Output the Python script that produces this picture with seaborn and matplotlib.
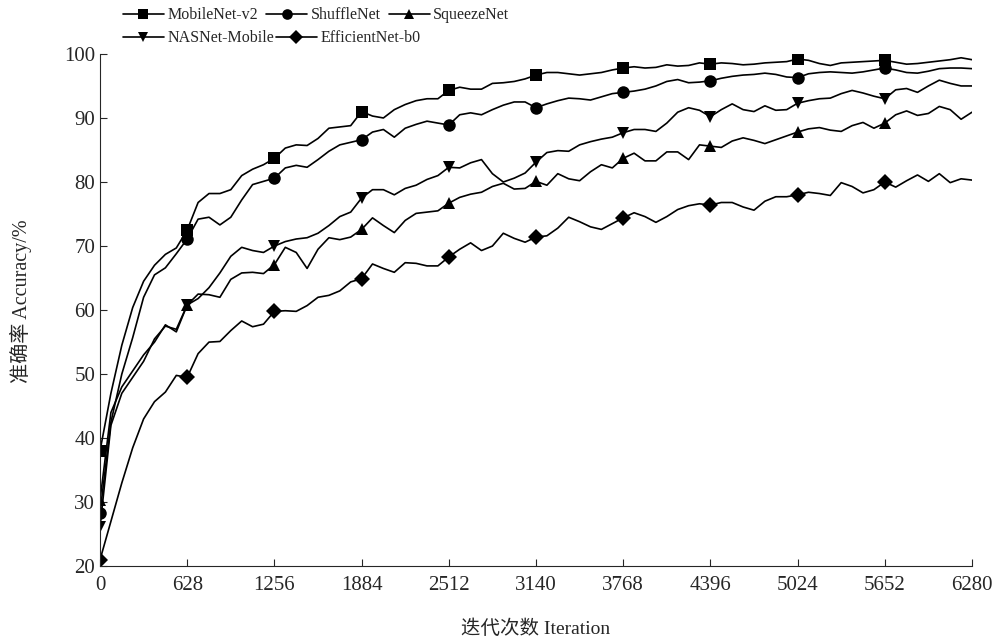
import numpy as np
import matplotlib
matplotlib.use("Agg")
import matplotlib.pyplot as plt
import seaborn as sns

# iteration grid (78.5 iterations per sample, marker every 628)
iterations = np.arange(81) * 78.5
x_ticks = [0, 628, 1256, 1884, 2512, 3140, 3768, 4396, 5024, 5652, 6280]
y_ticks = [20, 30, 40, 50, 60, 70, 80, 90, 100]

mobilenet_v2 = [38, 47, 54.5, 60.4, 64.5, 67, 68.7, 69.7, 72.5, 76.8,
                78.2, 78.2, 78.8, 81, 82, 82.7, 83.7, 85.3, 85.8, 85.7,
                86.8, 88.4, 88.6, 88.8, 91, 90.3, 90, 91.3, 92.1, 92.7,
                93, 93, 94.3, 94.8, 94.5, 94.5, 95.4, 95.5, 95.7, 96.1,
                96.7, 97.1, 97.1, 96.9, 96.7, 96.9, 97.1, 97.5, 97.8, 98,
                97.8, 97.9, 98.3, 98.1, 98.2, 98.6, 98.4, 98.6, 98.5, 98.3,
                98.4, 98.6, 98.7, 98.8, 99.2, 99, 98.5, 98.2, 98.6, 98.7,
                98.8, 98.9, 99, 98.7, 98.4, 98.5, 98.7, 98.9, 99.1, 99.4, 99.1]

shufflenet = [28.3, 42.5, 50, 55.7, 62, 65.5, 66.6, 68.8, 71.1, 74.2,
              74.5, 73.3, 74.5, 77.2, 79.6, 80.1, 80.6, 82.2, 82.6, 82.3,
              83.5, 84.8, 85.8, 86.2, 86.6, 87.8, 88.2, 87, 88.4, 89,
              89.5, 89.2, 88.9, 90.5, 90.8, 90.5, 91.3, 92, 92.5, 92.5,
              91.6, 92.2, 92.7, 93.1, 93, 92.8, 93.3, 93.8, 94, 94.2,
              94.5, 95, 95.7, 96, 95.5, 95.6, 95.8, 96.2, 96.5, 96.7,
              96.8, 97, 96.8, 96.4, 96.3, 96.9, 97.1, 97.2, 97.1, 97,
              97.2, 97.5, 97.8, 97.5, 97.1, 97, 97.3, 97.7, 97.8, 97.8, 97.7]

squeezenet = [30.3, 44, 48, 50.5, 53, 55, 57.7, 56.6, 60.8, 62.5,
              62.4, 62, 64.8, 65.8, 65.9, 65.7, 67.1, 69.8, 69, 66.5,
              69.5, 71.3, 71, 71.4, 72.6, 74.4, 73.2, 72.1, 74, 75.1,
              75.3, 75.5, 76.7, 77.6, 78.1, 78.4, 79.3, 79.8, 78.9, 79,
              80.1, 79.5, 81.3, 80.5, 80.2, 81.6, 82.7, 82.2, 83.7, 84.5,
              83.3, 83.3, 84.7, 84.7, 83.5, 85.8, 85.6, 85.4, 86.4, 86.9,
              86.5, 86, 86.6, 87.2, 87.8, 88.3, 88.5, 88.1, 87.9, 88.8,
              89.3, 88.4, 89.2, 90.5, 91.1, 90.4, 90.7, 91.8, 91.3, 89.8, 90.9]

nasnet_mobile = [26.1, 42, 47, 49.5, 52, 55.5, 57.5, 57, 60.8, 61.8,
                 63.5, 65.8, 68.4, 69.8, 69.3, 69, 70, 70.7, 71.1, 71.3,
                 72, 73.2, 74.6, 75.3, 77.5, 78.8, 78.8, 78, 79, 79.5,
                 80.4, 81, 82.3, 82.2, 83, 83.5, 81.3, 80, 80.6, 81.4,
                 83.1, 84.6, 84.9, 84.8, 85.8, 86.3, 86.7, 87, 87.7, 88.2,
                 88.2, 87.9, 89.2, 90.9, 91.6, 91.2, 90.2, 91.3, 92.2, 91.3,
                 91, 91.9, 91.2, 91.3, 92.3, 92.7, 93, 93.1, 93.8, 94.3,
                 93.9, 93.4, 93, 94.4, 94.6, 94, 95, 95.9, 95.4, 95, 95]

efficientnet_b0 = [21, 27, 33, 38.5, 43, 45.7, 47.2, 49.8, 49.5, 53.2,
                   55, 55.1, 56.8, 58.3, 57.4, 57.8, 59.8, 59.9, 59.8, 60.7,
                   62, 62.3, 63, 64.4, 64.9, 67.2, 66.5, 65.9, 67.4, 67.3,
                   66.9, 66.9, 68.3, 69.5, 70.5, 69.3, 70, 72, 71.2, 70.6,
                   71.4, 71.6, 72.8, 74.5, 73.8, 73, 72.6, 73.5, 74.4, 75.2,
                   74.6, 73.7, 74.6, 75.7, 76.3, 76.6, 76.4, 76.8, 76.8, 76.1,
                   75.6, 77, 77.7, 77.7, 78, 78.4, 78.2, 77.9, 79.9, 79.3,
                   78.3, 78.8, 80, 79.2, 80.2, 81.1, 80.1, 81.3, 79.9, 80.5, 80.3]

series = [("MobileNet-v2", mobilenet_v2, "s"),
          ("ShuffleNet", shufflenet, "o"),
          ("SqueezeNet", squeezenet, "^"),
          ("NASNet-Mobile", nasnet_mobile, "v"),
          ("EfficientNet-b0", efficientnet_b0, "D")]

sns.set_style("ticks")
plt.rcParams["font.family"] = ["Liberation Serif", "Noto Sans CJK SC"]
plt.rcParams["font.size"] = 13

fig, ax = plt.subplots(figsize=(10, 6.42), dpi=100)
fig.subplots_adjust(left=0.1, right=0.972, bottom=0.118, top=0.916)

marks = list(range(0, 80, 8))
for name, values, marker in series:
    ms = 8 if marker == "D" else 9
    sns.lineplot(x=iterations, y=values, color="k", linewidth=1.2, marker=marker,
                 markersize=ms, markeredgewidth=0, markevery=marks, label=name, ax=ax)

# legend laid out as two free-flowing rows above the axes
handles, labels = ax.get_legend_handles_labels()
ax.get_legend().remove()
leg_style = dict(loc="upper left", frameon=False, handlelength=2.6, handletextpad=0.2,
                 borderaxespad=0, borderpad=0.1, fontsize=11.5, markerscale=0.85)
fig.legend(handles[:3], labels[:3], ncol=3, bbox_to_anchor=(0.121, 0.991),
           columnspacing=0.5, **leg_style)
fig.legend(handles[3:], labels[3:], ncol=2, bbox_to_anchor=(0.121, 0.955),
           columnspacing=0.1, **leg_style)

ax.set_xlim(0, 6280)
ax.set_ylim(20, 100)
ax.set_xticks(x_ticks)
ax.set_yticks(y_ticks)
ax.tick_params(direction="in", length=5, labelsize=15)
ax.tick_params(axis="x", pad=7)
ax.set_xlabel("迭代次数 Iteration", fontsize=14, labelpad=18)
ax.set_ylabel("准确率 Accuracy/%", fontsize=14.5)
ax.yaxis.set_label_coords(-0.078, 0.518)
sns.despine(ax=ax)

fig.savefig("out.png", dpi=100)
